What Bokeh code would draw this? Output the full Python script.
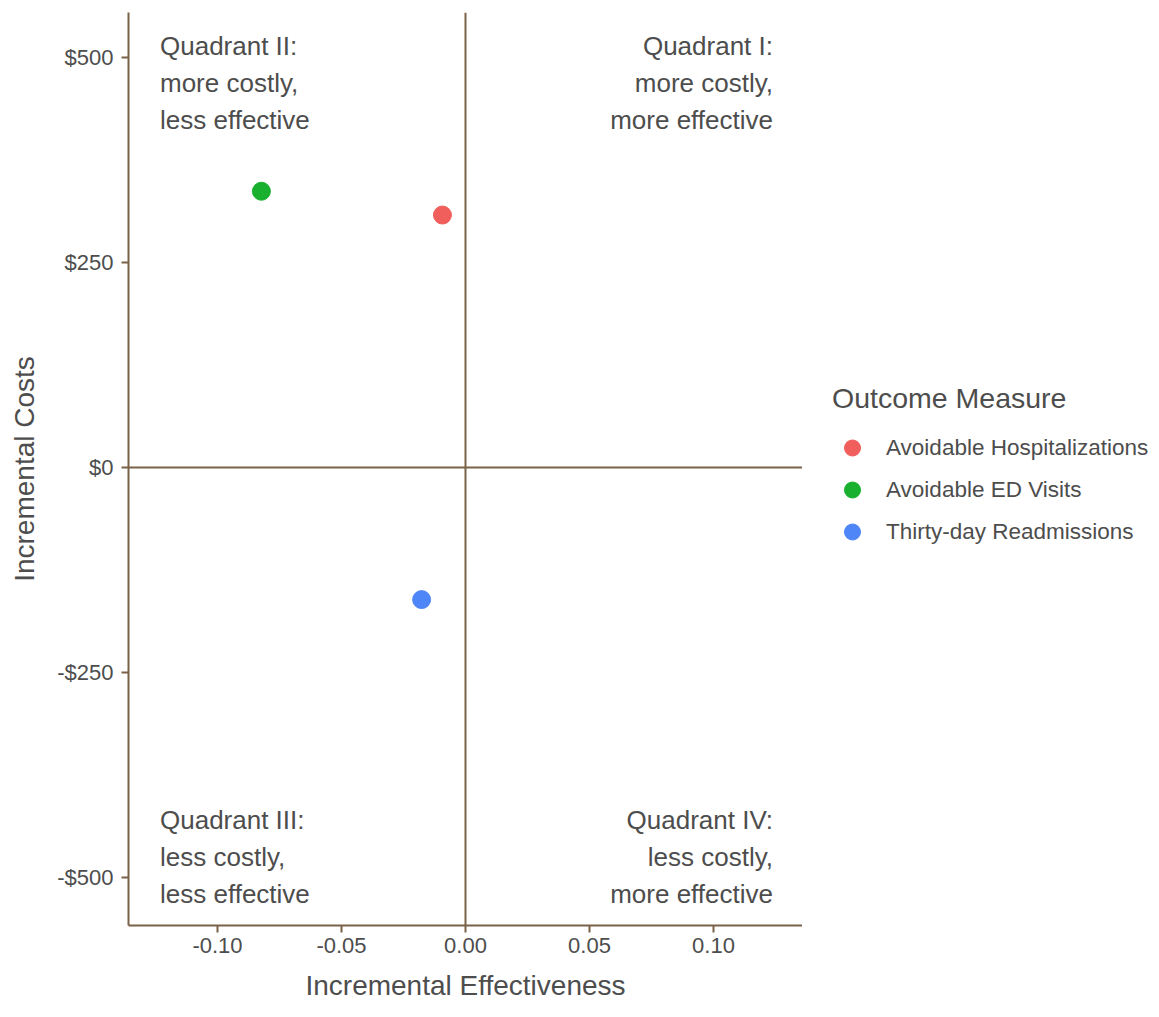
from bokeh.plotting import figure
from bokeh.layouts import row
from bokeh.models import (Legend, LegendItem, FixedTicker, Range1d, Span,
                          ColumnDataSource)
from bokeh.core.properties import value
from bokeh.embed import file_html
from bokeh.resources import INLINE

# ---- data ----
measures = ["Avoidable Hospitalizations", "Avoidable ED Visits", "Thirty-day Readmissions"]
effectiveness = [-0.0093, -0.0823, -0.0177]
costs = [308, 337, -161]
colors = ["#F15F5C", "#19B02F", "#4F86F7"]

x_ticks = [-0.10, -0.05, 0.0, 0.05, 0.10]
x_tick_labels = ["-0.10", "-0.05", "0.00", "0.05", "0.10"]
y_ticks = [-500, -250, 0, 250, 500]
y_tick_labels = ["-$500", "-$250", "$0", "$250", "$500"]

quad_labels = ["Quadrant I:\nmore costly,\nmore effective",
               "Quadrant II:\nmore costly,\nless effective",
               "Quadrant III:\nless costly,\nless effective",
               "Quadrant IV:\nless costly,\nmore effective"]

# ---- styling constants ----
AX = "#7A6249"
TXT = "#4D4D4D"
FONT = "Liberation Sans"

quad_x = [0.124, -0.1232, -0.1232, 0.124]
quad_y = [469, 469, -475, -475]
quad_align = ["right", "left", "left", "right"]

src = ColumnDataSource(dict(x=effectiveness, y=costs, color=colors, m=measures))

p = figure(width=802, height=1017, output_backend="svg", toolbar_location=None,
           x_range=Range1d(-0.1359, 0.1359), y_range=Range1d(-558.5, 555),
           min_border_left=128, min_border_right=0, min_border_top=12,
           min_border_bottom=92)
p.outline_line_color = None
p.grid.visible = False
p.background_fill_color = "white"
p.border_fill_color = "white"

for ax in (p.xaxis[0], p.yaxis[0]):
    ax.axis_line_color = AX
    ax.axis_line_width = 2
    ax.major_tick_line_color = AX
    ax.major_tick_line_width = 2
    ax.major_tick_in = 0
    ax.major_tick_out = 7
    ax.minor_tick_line_color = None
    ax.major_label_text_font = FONT
    ax.major_label_text_font_size = "22px"
    ax.major_label_text_color = TXT
    ax.axis_label_text_font = FONT
    ax.axis_label_text_font_size = "28px"
    ax.axis_label_text_font_style = "normal"
    ax.axis_label_text_color = TXT

p.xaxis.ticker = FixedTicker(ticks=x_ticks)
p.xaxis.major_label_overrides = dict(zip(x_ticks, x_tick_labels))
p.yaxis.ticker = FixedTicker(ticks=y_ticks)
p.yaxis.major_label_overrides = dict(zip(y_ticks, y_tick_labels))
p.xaxis.axis_label = "Incremental Effectiveness"
p.yaxis.axis_label = "Incremental Costs"
p.xaxis.major_label_standoff = 5
p.yaxis.major_label_standoff = 8
p.xaxis.axis_label_standoff = 14
p.yaxis.axis_label_standoff = 14

p.add_layout(Span(location=0, dimension="height", line_color=AX, line_width=2))
p.add_layout(Span(location=0, dimension="width", line_color=AX, line_width=2))

qsrc = ColumnDataSource(dict(x=quad_x, y=quad_y, text=quad_labels, align=quad_align))
p.text(x="x", y="y", text="text", source=qsrc, text_align="align",
       text_baseline="middle", text_font=value(FONT), text_font_size="26px",
       text_color=TXT, text_line_height=1.23)

p.scatter(x="x", y="y", source=src, color="color", size=18)

# ---- legend panel (separate figure to the right) ----
lf = figure(width=357, height=1017, output_backend="svg", toolbar_location=None,
            x_range=Range1d(10, 11), y_range=Range1d(10, 11),
            x_axis_location=None, y_axis_location=None,
            min_border_left=0, min_border_right=0, min_border_top=0,
            min_border_bottom=0)
lf.outline_line_color = None
lf.grid.visible = False
lf.border_fill_color = "white"
lr = lf.scatter(x="x", y="y", source=src, color="color", size=18)

legend = Legend(items=[LegendItem(label=m, renderers=[lr], index=i)
                       for i, m in enumerate(measures)],
                title="Outcome Measure", location=(30, 373),
                margin=0, padding=0, border_line_color=None,
                background_fill_alpha=0,
                title_text_font=FONT, title_text_font_size="28.5px",
                title_text_color=TXT, title_text_font_style="normal",
                title_standoff=12,
                label_text_font=FONT, label_text_font_size="22.5px",
                label_text_color=TXT, label_standoff=14,
                glyph_width=40, glyph_height=41, label_height=41, spacing=1)
lf.add_layout(legend, "center")

open("out.html", "w").write(file_html(row(p, lf), INLINE))
